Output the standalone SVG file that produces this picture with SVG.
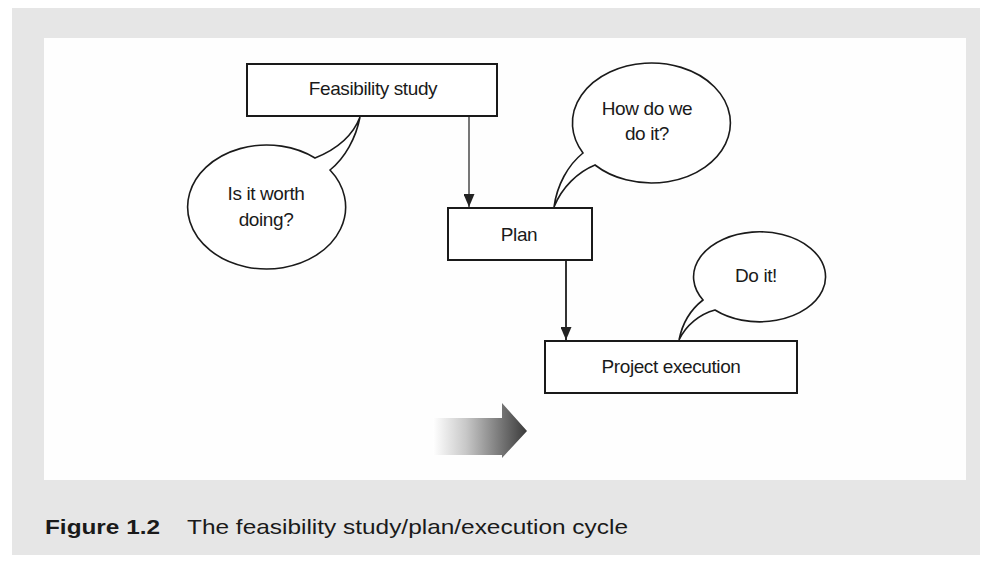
<svg xmlns="http://www.w3.org/2000/svg" width="984" height="562" viewBox="0 0 984 562">
<defs>
<style>
.box{fill:#fff;stroke:#1a1a1a;stroke-width:2}
.bub{fill:#fff;stroke:#1a1a1a;stroke-width:1.6}
.t{font-family:"Liberation Sans",Arial,sans-serif;font-size:19px;fill:#1a1a1a;text-anchor:middle;letter-spacing:-0.4px}
.cap{font-family:"Liberation Sans",Arial,sans-serif;font-size:21px;fill:#1a1a1a}
.con{stroke:#777;stroke-width:2;fill:none}
</style>
<marker id="ah" markerWidth="13" markerHeight="11" refX="13" refY="5.5" orient="auto" markerUnits="userSpaceOnUse" viewBox="0 0 13 11">
<path d="M0,0 L13,5.5 L0,11 Z" fill="#222"/>
</marker>
<linearGradient id="g" x1="0" y1="0" x2="1" y2="0">
<stop offset="0" stop-color="#fff"/>
<stop offset="0.35" stop-color="#c8c8c8"/>
<stop offset="1" stop-color="#3a3a3a"/>
</linearGradient>
</defs>
<rect x="0" y="0" width="984" height="562" fill="#fff"/>
<rect x="12" y="8" width="968" height="547" fill="#e6e6e6"/>
<rect x="44" y="38" width="922" height="442" fill="#fefefe"/>

<g id="connectors">
<line class="con" x1="469" y1="116" x2="469" y2="207" marker-end="url(#ah)"/>
<line class="con" x1="566" y1="260" x2="566" y2="340" marker-end="url(#ah)" style="stroke:#333"/>
</g>

<g id="feasibility">
<rect class="box" x="247" y="64" width="250" height="52"/>
<text class="t" x="373" y="95">Feasibility study</text>
</g>
<g id="plan">
<rect class="box" x="448" y="208" width="144" height="52"/>
<text class="t" x="519" y="241">Plan</text>
</g>
<g id="execution">
<rect class="box" x="545" y="341" width="252" height="52"/>
<text class="t" x="671" y="373">Project execution</text>
</g>

<g id="bubble-worth">
<path class="bub" d="M315,158 C335,150 352,138 360,117 C356,138 345,158 330,170 A79,62 0 1 1 315,158 Z"/>
<text class="t" x="266" y="200">Is it worth</text>
<text class="t" x="266" y="226">doing?</text>
</g>
<g id="bubble-how">
<path class="bub" d="M583,153 C568,165 557,185 554,207 C562,187 578,172 595,165 A79,60 0 1 0 583,153 Z"/>
<text class="t" x="647" y="115">How do we</text>
<text class="t" x="647" y="140">do it?</text>
</g>
<g id="bubble-do">
<path class="bub" d="M703,300 C690,310 682,325 679,340 C686,325 700,314 715,310 A66,45 0 1 0 703,300 Z"/>
<text class="t" x="756" y="282">Do it!</text>
</g>

<g id="big-arrow">
<path d="M433,418 L502,418 L502,403 L527,431 L502,458 L502,455 L433,455 Z" fill="url(#g)"/>
</g>

<g id="caption">
<text class="cap" x="45" y="534" font-weight="bold" textLength="115" lengthAdjust="spacingAndGlyphs">Figure 1.2</text>
<text class="cap" x="187" y="534" textLength="441" lengthAdjust="spacingAndGlyphs">The feasibility study/plan/execution cycle</text>
</g>
</svg>
